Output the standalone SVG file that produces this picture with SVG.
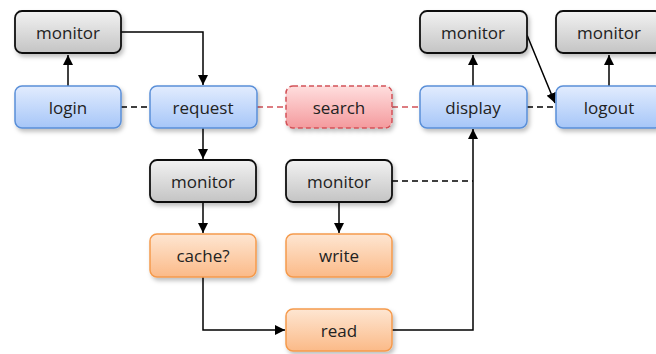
<svg xmlns="http://www.w3.org/2000/svg" width="656" height="354" viewBox="0 0 656 354">
<defs>
<linearGradient id="gGray" x1="0" y1="0" x2="0" y2="1"><stop offset="0" stop-color="#f2f2f2"/><stop offset="1" stop-color="#c4c4c4"/></linearGradient>
<linearGradient id="gBlue" x1="0" y1="0" x2="0" y2="1"><stop offset="0" stop-color="#e2ecfe"/><stop offset="1" stop-color="#a6c6f8"/></linearGradient>
<linearGradient id="gOrange" x1="0" y1="0" x2="0" y2="1"><stop offset="0" stop-color="#fee6d2"/><stop offset="1" stop-color="#fbba88"/></linearGradient>
<linearGradient id="gRed" x1="0" y1="0" x2="0" y2="1"><stop offset="0" stop-color="#ffdede"/><stop offset="1" stop-color="#f49a9d"/></linearGradient>
<filter id="sh" x="-10%" y="-10%" width="130%" height="140%"><feDropShadow dx="2" dy="3" stdDeviation="2" flood-color="#000" flood-opacity="0.25"/></filter>
<marker id="arr" markerWidth="10" markerHeight="10" viewBox="0 0 10 10" refX="10" refY="5" orient="auto" markerUnits="userSpaceOnUse"><path d="M0,0 L10,5 L0,10 z" fill="#000"/></marker>
</defs>
<style>
.box{filter:url(#sh);stroke-width:1.5}
.gray{fill:url(#gGray);stroke:#111;stroke-width:1.8}
.blue{fill:url(#gBlue);stroke:#5a8fd8}
.orange{fill:url(#gOrange);stroke:#f59a4c}
.red{fill:url(#gRed);stroke:#d25258;stroke-dasharray:5 3}
text{font-family:"Open Sans","Noto Sans","Liberation Sans",sans-serif;font-size:17px;fill:#222;text-anchor:middle;dominant-baseline:central}
.ln{fill:none;stroke:#000;stroke-width:1.5}
.dash{stroke-dasharray:6 4}
.rdash{fill:none;stroke:#d25258;stroke-width:1.5;stroke-dasharray:6 4}
</style>
<g id="connectors">
<path class="ln" d="M68,86 V55" marker-end="url(#arr)"/>
<path class="ln" d="M121,32 H203 V85" marker-end="url(#arr)"/>
<path class="ln dash" d="M121,107 H150"/>
<path class="rdash" d="M257,107 H286"/>
<path class="rdash" d="M392,107 H420"/>
<path class="ln dash" d="M527,107 H556"/>
<path class="ln" d="M473,86 V55" marker-end="url(#arr)"/>
<path class="ln" d="M527,35 L555,103" marker-end="url(#arr)"/>
<path class="ln" d="M609,86 V55" marker-end="url(#arr)"/>
<path class="ln" d="M203,128 V159" marker-end="url(#arr)"/>
<path class="ln" d="M203,202 V233" marker-end="url(#arr)"/>
<path class="ln" d="M339,202 V233" marker-end="url(#arr)"/>
<path class="ln dash" d="M392,181 H473"/>
<path class="ln" d="M203,277 V330 H285" marker-end="url(#arr)"/>
<path class="ln" d="M392,330 H473 V129" marker-end="url(#arr)"/>
</g>
<g id="monitor1"><rect class="box gray" x="15" y="11" width="106" height="42" rx="7"/><text x="68" y="32">monitor</text></g>
<g id="login"><rect class="box blue" x="15" y="86" width="106" height="42" rx="7"/><text x="68" y="107">login</text></g>
<g id="request"><rect class="box blue" x="150" y="86" width="107" height="42" rx="7"/><text x="203" y="107">request</text></g>
<g id="search"><rect class="box red" x="286" y="86" width="106" height="42" rx="7"/><text x="339" y="107">search</text></g>
<g id="display"><rect class="box blue" x="420" y="86" width="107" height="42" rx="7"/><text x="473" y="107">display</text></g>
<g id="logout"><rect class="box blue" x="556" y="86" width="106" height="42" rx="7"/><text x="609" y="107">logout</text></g>
<g id="monitor2"><rect class="box gray" x="420" y="11" width="107" height="42" rx="7"/><text x="473" y="32">monitor</text></g>
<g id="monitor3"><rect class="box gray" x="556" y="11" width="106" height="42" rx="7"/><text x="609" y="32">monitor</text></g>
<g id="monitor4"><rect class="box gray" x="150" y="160" width="106" height="42" rx="7"/><text x="203" y="181">monitor</text></g>
<g id="monitor5"><rect class="box gray" x="286" y="160" width="106" height="42" rx="7"/><text x="339" y="181">monitor</text></g>
<g id="cache"><rect class="box orange" x="150" y="234" width="106" height="43" rx="7"/><text x="203" y="255">cache?</text></g>
<g id="write"><rect class="box orange" x="286" y="234" width="106" height="43" rx="7"/><text x="339" y="255">write</text></g>
<g id="read"><rect class="box orange" x="286" y="309" width="106" height="42" rx="7"/><text x="339" y="330">read</text></g>
</svg>
